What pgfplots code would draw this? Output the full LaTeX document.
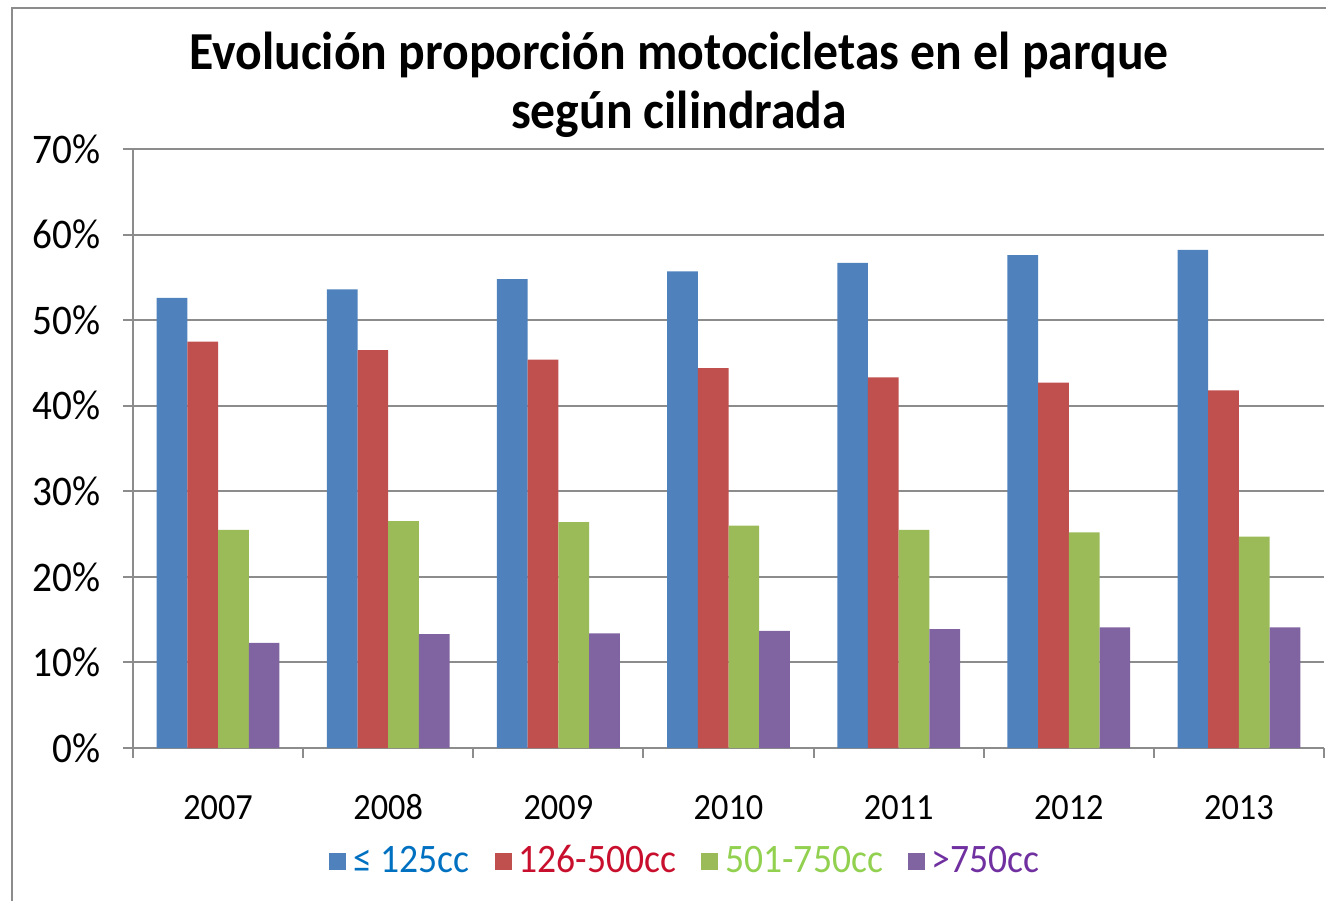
\documentclass[border=0pt]{standalone}
\usepackage{pgfplots}
\pgfplotsset{compat=1.18}
\usepackage{fontspec}
\setmainfont{Carlito}[FakeStretch=0.93]

\definecolor{bblue}{HTML}{4F81BD}
\definecolor{bred}{HTML}{C0504D}
\definecolor{bgreen}{HTML}{9BBB59}
\definecolor{bpurple}{HTML}{8064A2}
\definecolor{tblue}{HTML}{0070C0}
\definecolor{tred}{HTML}{C8102E}
\definecolor{tgreen}{HTML}{92D050}
\definecolor{tpurple}{HTML}{7030A0}
\definecolor{gridgray}{HTML}{8C8C8C}

\begin{document}
\begin{tikzpicture}
\useasboundingbox (0,0) rectangle (13.26,9);
% chart frame (only left and top edges are in view)
\draw[gridgray, line width=0.8pt] (0.12,-0.1) -- (0.12,8.92) -- (13.4,8.92);
\node[font=\bfseries\fontsize{15.2}{16.8}\selectfont, align=center]
  at (6.79,8.15) {Evolución proporción motocicletas en el parque\\según cilindrada};

\begin{axis}[
  at={(1.33cm,1.52cm)}, anchor=south west,
  scale only axis, width=11.91cm, height=5.99cm,
  ybar=0pt, bar width=0.307cm,
  xmin=-0.5, xmax=6.5, ymin=0, ymax=70,
  ytick={0,10,20,30,40,50,60,70},
  yticklabel={\pgfmathprintnumber{\tick}\%},
  /pgf/number format/assume math mode=true,
  typeset ticklabels with strut,
  ymajorgrids, grid style={gridgray, line width=0.6pt},
  axis x line*=bottom, axis y line*=left,
  axis line style={gridgray, line width=0.6pt, -},
  tick align=outside, major tick length=0.1cm,
  tick style={gridgray, line width=0.6pt},
  xtick={-0.5,0.5,1.5,2.5,3.5,4.5,5.5,6.5}, xticklabels={},
  extra x ticks={0,1,2,3,4,5,6},
  extra x tick labels={2007,2008,2009,2010,2011,2012,2013},
  extra x tick style={major tick length=0pt,
    tick label style={font=\fontsize{10.5}{12}\selectfont, yshift=-0.3cm}},
  yticklabel style={font=\fontsize{12}{14}\selectfont, xshift=-0.1cm},
  legend columns=4,
  legend style={draw=none, fill=none, at={(0.466,-0.19)}, anchor=center,
    font=\fontsize{11.5}{13}\selectfont, inner sep=0pt,
    /tikz/every odd column/.append style={column sep=0cm},
    /tikz/every even column/.append style={column sep=0.18cm}},
  sq/.style={legend image code/.code={\fill[##1] (0.03cm,-0.085cm) rectangle (0.2cm,0.085cm);}},
]
\addplot[fill=bblue, draw=none, sq] coordinates
  {(0,52.6) (1,53.6) (2,54.8) (3,55.7) (4,56.7) (5,57.6) (6,58.2)};
\addlegendentry{\textcolor{tblue}{≤ 125cc}}
\addplot[fill=bred, draw=none, sq] coordinates
  {(0,47.5) (1,46.5) (2,45.4) (3,44.4) (4,43.3) (5,42.7) (6,41.8)};
\addlegendentry{\textcolor{tred}{126-500cc}}
\addplot[fill=bgreen, draw=none, sq] coordinates
  {(0,25.5) (1,26.5) (2,26.4) (3,26.0) (4,25.5) (5,25.2) (6,24.7)};
\addlegendentry{\textcolor{tgreen}{501-750cc}}
\addplot[fill=bpurple, draw=none, sq] coordinates
  {(0,12.3) (1,13.3) (2,13.4) (3,13.7) (4,13.9) (5,14.1) (6,14.1)};
\addlegendentry{\textcolor{tpurple}{>750cc}}
\end{axis}
\end{tikzpicture}
\end{document}
